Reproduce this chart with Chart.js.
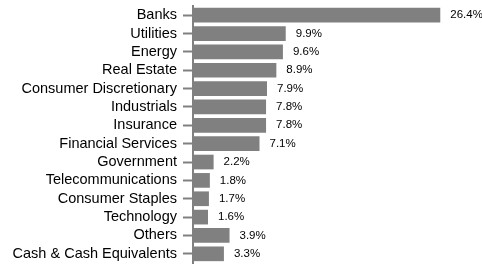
<!DOCTYPE html>
<html>
<head>
<meta charset="utf-8">
<script src="https://cdn.jsdelivr.net/npm/chart.js@4"></script>
<style>
  html, body { margin: 0; padding: 0; background: #fff; }
  #wrap { width: 482px; height: 265px; }
</style>
</head>
<body>
<div id="wrap"><canvas id="sector-chart"></canvas></div>
<script>
var categories = ["Banks", "Utilities", "Energy", "Real Estate", "Consumer Discretionary",
    "Industrials", "Insurance", "Financial Services", "Government", "Telecommunications",
    "Consumer Staples", "Technology", "Others", "Cash & Cash Equivalents"];
var weights = [26.4, 9.9, 9.6, 8.9, 7.9, 7.8, 7.8, 7.1, 2.2, 1.8, 1.7, 1.6, 3.9, 3.3];

var barColor = "#808080";
var fontFamily = "'Liberation Sans', Arial, sans-serif";

// draws the "26.4%" labels after each bar
var valueLabels = {
    id: "valueLabels",
    afterDatasetsDraw: function(chart) {
        var ctx = chart.ctx;
        var meta = chart.getDatasetMeta(0);
        ctx.save();
        ctx.font = "11.5px " + fontFamily;
        ctx.fillStyle = "#000";
        ctx.textBaseline = "middle";
        ctx.textAlign = "left";
        meta.data.forEach(function(bar, i) {
            ctx.fillText(weights[i].toFixed(1) + "%", bar.x + 10, bar.y);
        });
        ctx.restore();
    }
};

document.addEventListener("DOMContentLoaded", function() {
    var ctx = document.getElementById("sector-chart").getContext("2d");
    new Chart(ctx, {
        type: "bar",
        data: {
            labels: categories,
            datasets: [{
                data: weights,
                backgroundColor: barColor,
                borderWidth: 0,
                barPercentage: 0.8,
                categoryPercentage: 1.0
            }]
        },
        options: {
            indexAxis: "y",
            responsive: true,
            maintainAspectRatio: false,
            animation: false,
            layout: { padding: { top: 6, bottom: 2, right: 8, left: 0 } },
            plugins: {
                legend: { display: false },
                tooltip: { enabled: false }
            },
            scales: {
                x: {
                    display: false,
                    min: 0,
                    max: 30
                },
                y: {
                    afterFit: function(scale) {
                        scale.width = 193;
                        scale.paddingTop = 0;
                        scale.paddingBottom = 0;
                    },
                    grid: {
                        offset: false,
                        drawOnChartArea: false,
                        drawTicks: true,
                        tickLength: 10,
                        tickWidth: 2,
                        color: barColor
                    },
                    border: { display: true, color: barColor, width: 2 },
                    ticks: {
                        autoSkip: false,
                        padding: 6,
                        color: "#000",
                        font: { family: fontFamily, size: 14.5 }
                    }
                }
            }
        },
        plugins: [valueLabels]
    });
});
</script>
</body>
</html>
